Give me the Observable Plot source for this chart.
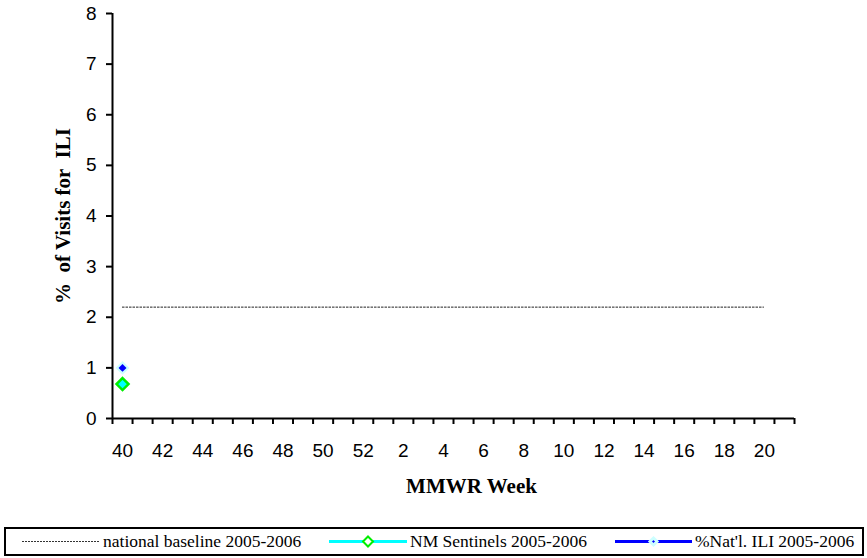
<!DOCTYPE html>
<html>
<head>
<meta charset="utf-8">
<script src="https://cdn.jsdelivr.net/npm/d3@7"></script>
<script src="https://cdn.jsdelivr.net/npm/@observablehq/plot@0.6"></script>
<style>
  html, body { margin: 0; padding: 0; background: #fff; }
  #wrap { position: relative; width: 867px; height: 558px; overflow: hidden; }
  #legend { position: absolute; left: 4px; top: 527px; width: 860px; height: 29px; box-sizing: border-box;
            border: 2px solid #000; font-family: "Liberation Serif", "Times New Roman", serif; font-size: 17.5px; color: #000; }
  #legend .item { position: absolute; top: 0; height: 25px; display: flex; align-items: center; white-space: nowrap; }
  #legend svg { display: block; }
</style>
</head>
<body>
<div id="wrap">
  <div id="chart"></div>
  <div id="legend"></div>
</div>
<script>
// ---- data ----
const weeks = ["40","41","42","43","44","45","46","47","48","49","50","51","52",
               "1","2","3","4","5","6","7","8","9","10","11","12","13","14","15","16","17","18","19","20","21"];
const tickLabels = ["40","42","44","46","48","50","52","2","4","6","8","10","12","14","16","18","20"];
const yTicks = [0, 1, 2, 3, 4, 5, 6, 7, 8];
const baselineValue = 2.2;
const baselineStart = "40";
const baselineEnd = "20";
const nmWeeks = ["40"];
const nmValues = [0.68];
const natWeeks = ["40"];
const natValues = [1.0];
const seriesNames = ["national baseline 2005-2006", "NM Sentinels 2005-2006", "%Nat'l. ILI 2005-2006"];
const yLabel = "%  of Visits for  ILI";
const xLabel = "MMWR Week";

// ---- build ----
const center = w => weeks.indexOf(w) + 0.5;
const nmData = nmWeeks.map((w, i) => ({x: center(w), y: nmValues[i]}));
const natData = natWeeks.map((w, i) => ({x: center(w), y: natValues[i]}));
const boundaries = d3.range(weeks.length + 1);
const labelPos = tickLabels.map(center);

const chart = Plot.plot({
  width: 867,
  height: 522,
  marginLeft: 112,
  marginRight: 73,
  marginTop: 13,
  marginBottom: 104,
  style: {fontFamily: "'Liberation Sans', Arial, sans-serif", background: "#fff", color: "#000"},
  x: {type: "linear", domain: [0, weeks.length], axis: null},
  y: {domain: [0, 8], axis: null},
  marks: [
    Plot.axisY(yTicks, {tickSize: 6, tickPadding: 10, fontSize: 19, strokeWidth: 2, label: null, tickFormat: d => String(d)}),
    Plot.axisX(boundaries, {tickSize: 6, tickFormat: () => "", strokeWidth: 2, label: null}),
    Plot.axisX(labelPos, {tickSize: 0, tickPadding: 25, fontSize: 19, label: null,
                          tickFormat: p => weeks[Math.round(p - 0.5)]}),
    Plot.ruleX([0], {y1: 0, y2: 8, stroke: "#000", strokeWidth: 2}),
    Plot.ruleY([0], {x1: 0, x2: weeks.length, stroke: "#000", strokeWidth: 2}),
    Plot.ruleY([baselineValue], {x1: center(baselineStart), x2: center(baselineEnd), stroke: "#222", strokeWidth: 1, strokeDasharray: "2.5,1"}),
    Plot.dot(natData, {x: "x", y: "y", symbol: "diamond2", r: 6.3, fill: "#ccffff", stroke: "none"}),
    Plot.dot(natData, {x: "x", y: "y", symbol: "diamond2", r: 3.6, fill: "#0000ff", stroke: "none"}),
    Plot.dot(nmData, {x: "x", y: "y", symbol: "diamond2", r: 5.4, fill: "#00ffff", stroke: "#00ee00", strokeWidth: 2.5}),
    Plot.text([yLabel], {frameAnchor: "left", textAnchor: "middle", lineAnchor: "middle", rotate: -90, dx: -49, fontSize: 21, fontWeight: "bold",
                         fontFamily: "'Liberation Serif', 'Times New Roman', serif", fill: "#000"}),
    Plot.text([xLabel], {frameAnchor: "bottom", textAnchor: "middle", lineAnchor: "middle", dx: 18, dy: 68, fontSize: 21, fontWeight: "bold",
                         fontFamily: "'Liberation Serif', 'Times New Roman', serif", fill: "#000"})
  ]
});
document.getElementById("chart").appendChild(chart);

// ---- legend ----
const legend = document.getElementById("legend");
const items = [
  {left: 16, line: {stroke: "#333", w: 1, dash: "2,1"}, marker: null, width: 78},
  {left: 323, line: {stroke: "#00ffff", w: 3, dash: null}, marker: {fill: "#ffffff", stroke: "#00ee00", s: 5, sw: 2}, width: 78},
  {left: 609, line: {stroke: "#0000ff", w: 3, dash: null}, marker: {fill: "#0000ff", stroke: "#ccffff", s: 3.5, sw: 3}, width: 77}
];
items.forEach((it, i) => {
  const div = document.createElement("div");
  div.className = "item";
  div.style.left = it.left + "px";
  const svg = d3.create("svg").attr("width", it.width).attr("height", 25);
  const l = svg.append("line").attr("x1", 0).attr("x2", it.width).attr("y1", 12.5).attr("y2", 12.5)
    .attr("stroke", it.line.stroke).attr("stroke-width", it.line.w);
  if (it.line.dash) l.attr("stroke-dasharray", it.line.dash);
  if (it.marker) {
    const c = it.width / 2, s = it.marker.s;
    svg.append("path").attr("d", `M${c},${12.5 - s}L${c + s},12.5L${c},${12.5 + s}L${c - s},12.5Z`)
      .attr("fill", it.marker.fill).attr("stroke", it.marker.stroke).attr("stroke-width", it.marker.sw);
  }
  div.appendChild(svg.node());
  const span = document.createElement("span");
  span.textContent = seriesNames[i];
  span.style.marginLeft = "3px";
  div.appendChild(span);
  legend.appendChild(div);
});
</script>
</body>
</html>
